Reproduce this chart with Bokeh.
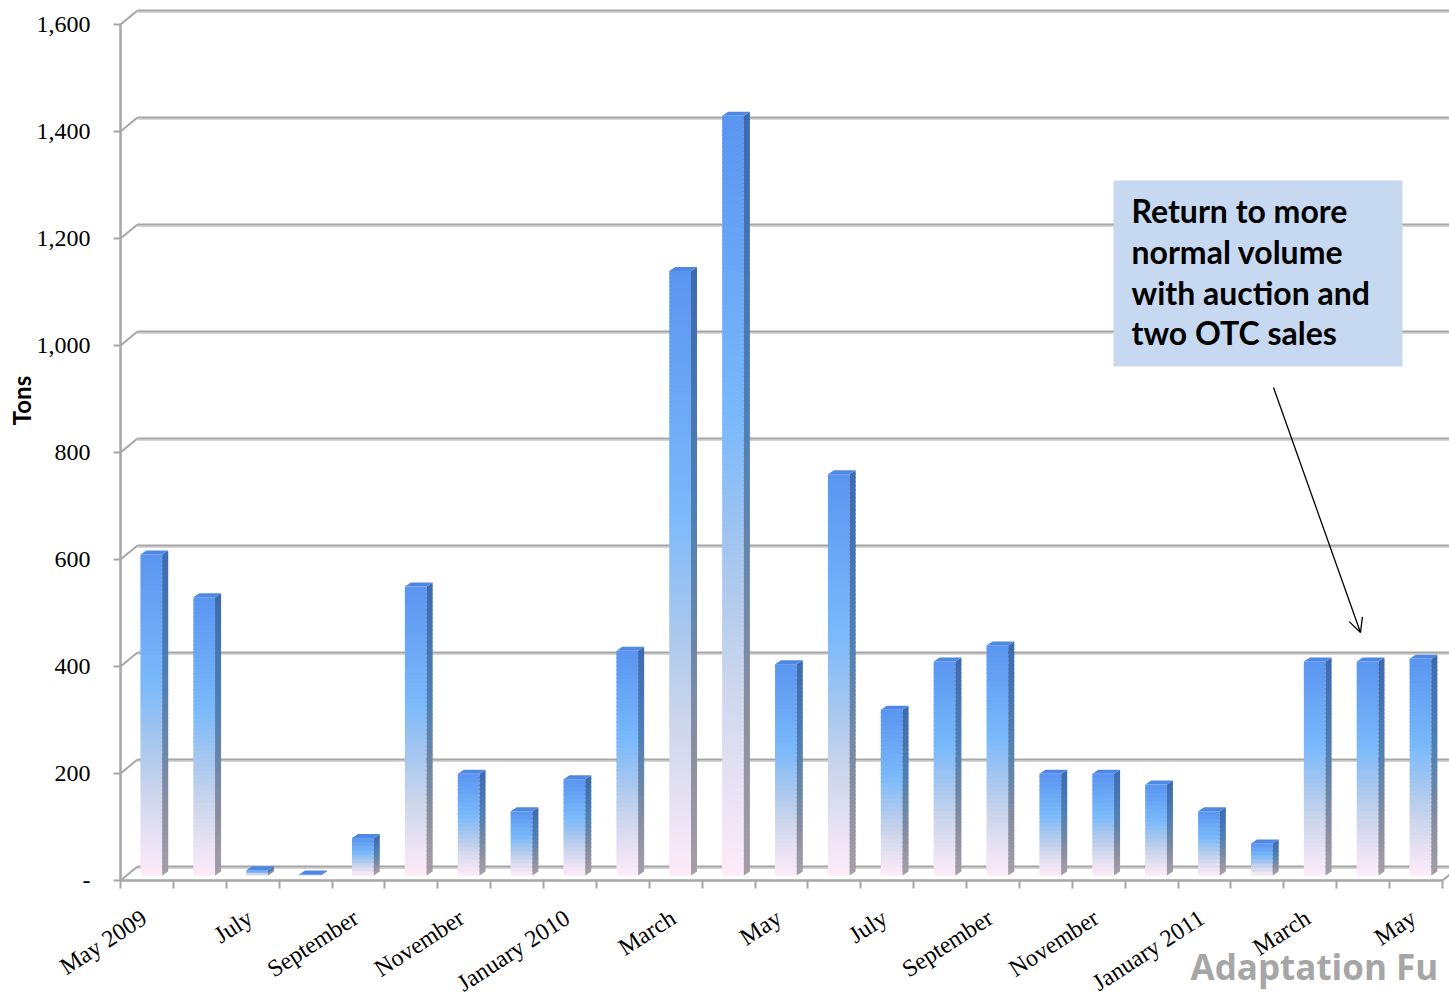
import numpy as np
from bokeh.plotting import figure
from bokeh.models import (Range1d, LinearAxis, FixedTicker, Label, Arrow,
                          OpenHead, BoxAnnotation)
from bokeh.embed import file_html
from bokeh.resources import INLINE

# ---- data -------------------------------------------------------------
months = ["May 2009", "June 2009", "July 2009", "August 2009",
          "September 2009", "October 2009", "November 2009", "December 2009",
          "January 2010", "February 2010", "March 2010", "April 2010",
          "May 2010", "June 2010", "July 2010", "August 2010",
          "September 2010", "October 2010", "November 2010", "December 2010",
          "January 2011", "February 2011", "March 2011", "April 2011",
          "May 2011"]
tons = [600, 520, 10, 2, 70, 540, 190, 120, 180, 420, 1130, 1420, 395,
        750, 310, 400, 430, 190, 190, 170, 120, 60, 400, 400, 405]
month_tick_labels = ["May 2009", "July", "September", "November",
                     "January 2010", "March", "May", "July", "September",
                     "November", "January 2011", "March", "May"]
y_ticks = [0, 200, 400, 600, 800, 1000, 1200, 1400, 1600]
y_tick_labels = ["-", "200", "400", "600", "800", "1,000", "1,200",
                 "1,400", "1,600"]
note_lines = ["Return to more", "normal volume", "with auction and",
              "two OTC sales"]

# ---- geometry ---------------------------------------------------------
W, H = 1449, 996
LEFT, BOTTOM = 120, 116          # pixel position of the axis corner
PX_X = 52.88                     # pixels per month
PX_Y = 0.535                     # pixels per ton


def dx(px):
    return px / PX_X


def dy(px):
    return px / PX_Y


def sy(py):
    """Vertical position measured in pixels from the top of the canvas."""
    return dy(H - BOTTOM - py)


x_start, x_end = dx(-LEFT), dx(W - LEFT)
y_start, y_end = dy(-BOTTOM), dy(H - BOTTOM)

WALL_DX, WALL_DY = dx(17), dy(14)      # depth of the back wall
FRONT_LEFT = dx(20)                    # bar front face, left edge in slot
BAR_W = dx(21.7)
BAR_LIFT = dy(5)
DEPTH_DX, DEPTH_DY = dx(6), dy(4)      # bar depth

GRID = "#a6a6a6"
GRID_LIGHT = "#d6d6d6"

front_stops = [(0.0, "#fdebf7"), (0.1, "#ebe3f4"), (0.25, "#cdd6ec"),
               (0.4, "#aac8ee"), (0.6, "#7ab9fb"), (1.0, "#5a95f0")]
side_stops = [(0.0, "#a59ea8"), (0.2, "#8c8fa0"), (0.4, "#6a86a8"),
              (0.6, "#4f7fb5"), (1.0, "#3d6bb0")]
TOP_COLOR = "#4f88e4"


def hex2rgb(h):
    h = h.lstrip("#")
    return np.array([int(h[i:i + 2], 16) for i in (0, 2, 4)], dtype=float)


def ramp(stops, t):
    for (t0, c0), (t1, c1) in zip(stops[:-1], stops[1:]):
        if t <= t1:
            a = (t - t0) / (t1 - t0)
            c = hex2rgb(c0) * (1 - a) + hex2rgb(c1) * a
            return "#%02x%02x%02x" % tuple(int(round(v)) for v in c)
    return stops[-1][1]


p = figure(width=W, height=H, x_range=Range1d(x_start, x_end),
           y_range=Range1d(y_start, y_end), output_backend="svg",
           toolbar_location=None, x_axis_type=None, y_axis_type=None,
           min_border=0, outline_line_color=None,
           background_fill_color="white", border_fill_color="white")

# ---- back wall grid and floor ----------------------------------------
for t in y_ticks:
    p.line([WALL_DX, x_end], [t + WALL_DY - dy(1.6)] * 2,
           line_color=GRID_LIGHT, line_width=1.6)
    p.line([WALL_DX, x_end], [t + WALL_DY] * 2,
           line_color=GRID, line_width=2.2)
    p.line([0, WALL_DX], [t, t + WALL_DY], line_color=GRID, line_width=2)
p.line([25, 25 + WALL_DX], [0, WALL_DY], line_color=GRID, line_width=2)

# ---- 3D columns (gradient built from horizontal slices) ---------------
fl, fr, fb, ft, fc = [], [], [], [], []
sxs, sys_, sc = [], [], []
txs, tys = [], []
overlap = dy(1.2)
for i, v in enumerate(tons):
    x0 = i + FRONT_LEFT
    x1 = x0 + BAR_W
    y0 = BAR_LIFT
    y1 = y0 + v
    n = max(2, int(v * PX_Y / 4))
    for k in range(n):
        yb = y0 + v * k / n
        yt = y1 if k == n - 1 else min(y1, y0 + v * (k + 1) / n + overlap)
        col_t = (k + 0.5) / n
        fl.append(x0); fr.append(x1); fb.append(yb); ft.append(yt)
        fc.append(ramp(front_stops, col_t))
        sxs.append([x1, x1 + DEPTH_DX, x1 + DEPTH_DX, x1])
        sys_.append([yb, yb + DEPTH_DY, yt + DEPTH_DY, yt])
        sc.append(ramp(side_stops, col_t))
    txs.append([x0, x1, x1 + DEPTH_DX, x0 + DEPTH_DX])
    tys.append([y1, y1, y1 + DEPTH_DY, y1 + DEPTH_DY])

p.quad(left=fl, right=fr, bottom=fb, top=ft, fill_color=fc, line_color=None)
p.patches(sxs, sys_, fill_color=sc, line_color=None)
p.patches(txs, tys, fill_color=TOP_COLOR, line_color=None)

# ---- axes (pinned at the origin of the chart) -------------------------
yaxis = LinearAxis(
    fixed_location=0,
    ticker=FixedTicker(ticks=y_ticks, minor_ticks=[]),
    major_label_overrides=dict(zip(y_ticks, y_tick_labels)),
    bounds=(0, 1600),
    axis_line_color=GRID, axis_line_width=2.5,
    major_tick_line_color=GRID, major_tick_line_width=2,
    major_tick_out=7, major_tick_in=0, minor_tick_out=0, minor_tick_in=0,
    major_label_standoff=23,
    major_label_text_font="Liberation Serif",
    major_label_text_font_size="24px",
    major_label_text_color="black")
p.add_layout(yaxis, "left")

label_pos = [2 * k + 0.45 for k in range(len(month_tick_labels))]
xaxis = LinearAxis(
    fixed_location=0,
    ticker=FixedTicker(ticks=label_pos, minor_ticks=list(range(26))),
    major_label_overrides=dict(zip(label_pos, month_tick_labels)),
    major_label_orientation=np.radians(33),
    bounds=(0, 25),
    axis_line_color=GRID, axis_line_width=2.5,
    major_tick_out=0, major_tick_in=0,
    minor_tick_out=8, minor_tick_in=0,
    minor_tick_line_color=GRID, minor_tick_line_width=2,
    major_label_standoff=27,
    major_label_text_font="Liberation Serif",
    major_label_text_font_size="24px",
    major_label_text_color="black")
p.add_layout(xaxis, "below")

p.add_layout(Label(x=dx(21 - LEFT), y=sy(400), text="Tons", angle=np.pi / 2,
                   text_align="center", text_baseline="middle",
                   text_font="Lato", text_font_style="bold",
                   text_font_size="24px", text_color="black"))

# ---- note box with arrow ---------------------------------------------
p.add_layout(BoxAnnotation(left=dx(1113 - LEFT), right=dx(1402 - LEFT),
                           top=sy(180), bottom=sy(366),
                           fill_color="#c6d9f1", fill_alpha=1.0,
                           line_color=None))
for j, line in enumerate(note_lines):
    p.add_layout(Label(x=dx(1131 - LEFT), y=sy(210 + 40.8 * j),
                       text=line, text_align="left",
                       text_baseline="alphabetic", text_font="Lato",
                       text_font_style="bold", text_font_size="32px",
                       text_color="black"))
p.add_layout(Arrow(end=OpenHead(size=14, line_color="black", line_width=1.3),
                   x_start=dx(1273 - LEFT), y_start=sy(387),
                   x_end=dx(1360 - LEFT), y_end=sy(632),
                   line_color="black", line_width=1.3))

p.add_layout(Label(x=dx(1190 - LEFT), y=sy(966), text="Adaptation Fu",
                   text_align="left", text_baseline="alphabetic",
                   text_font="Open Sans", text_font_style="bold",
                   text_font_size="35px", text_color="#a6a6a6"))

open("out.html", "w").write(file_html(p, INLINE))
